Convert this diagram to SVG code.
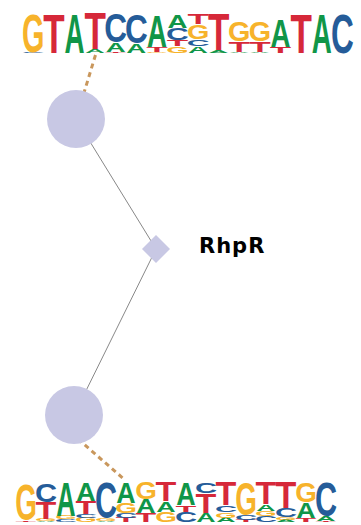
<svg xmlns="http://www.w3.org/2000/svg" width="361" height="525" viewBox="0 0 361 525">
<style>
.l{font-family:"Liberation Sans",Arial,sans-serif;font-weight:bold;text-anchor:middle}
.A{fill:#109648}.C{fill:#255C99}.G{fill:#F7B32B}.T{fill:#D62839}
.edge{stroke:#888888;stroke-width:1;fill:none}
.site{stroke:#C9975C;stroke-width:3;stroke-dasharray:5 4;fill:none}
.node{fill:#C8C8E4}
.lbl{font-family:"DejaVu Sans",Verdana,sans-serif;font-weight:bold;font-size:21px;letter-spacing:1px;fill:#000}
</style>
<g id="connectors">
<line class="site" x1="95.5" y1="55" x2="76" y2="119"/>
<line class="site" x1="78" y1="439" x2="125" y2="480"/>
<line class="edge" x1="76" y1="119" x2="156" y2="249"/>
<line class="edge" x1="156" y1="249" x2="74" y2="415"/>
</g>
<g id="logo-top">
<text class="l C" x="33.3" y="52.8" font-size="1.4" textLength="22.8" lengthAdjust="spacingAndGlyphs">C</text>
<text class="l G" x="33.3" y="51.6" font-size="53.5" textLength="22.4" lengthAdjust="spacingAndGlyphs">G</text>
<text class="l T" x="53.9" y="52.5" font-size="55.86" textLength="21.4" lengthAdjust="spacingAndGlyphs">T</text>
<text class="l A" x="74.5" y="52.5" font-size="55.86" textLength="20" lengthAdjust="spacingAndGlyphs">A</text>
<text class="l A" x="95.1" y="52.5" font-size="4.89" textLength="20" lengthAdjust="spacingAndGlyphs">A</text>
<text class="l T" x="95.1" y="49" font-size="50.98" textLength="21.4" lengthAdjust="spacingAndGlyphs">T</text>
<text class="l T" x="115.7" y="52.8" font-size="1.4" textLength="21.4" lengthAdjust="spacingAndGlyphs">T</text>
<text class="l A" x="115.7" y="51.6" font-size="13.27" textLength="20" lengthAdjust="spacingAndGlyphs">A</text>
<text class="l C" x="115.7" y="42.2" font-size="41.2" textLength="22.8" lengthAdjust="spacingAndGlyphs">C</text>
<text class="l A" x="136.3" y="52.5" font-size="13.27" textLength="20" lengthAdjust="spacingAndGlyphs">A</text>
<text class="l C" x="136.3" y="43" font-size="41.2" textLength="22.8" lengthAdjust="spacingAndGlyphs">C</text>
<text class="l G" x="156.9" y="52.5" font-size="1.4" textLength="22.4" lengthAdjust="spacingAndGlyphs">G</text>
<text class="l T" x="156.9" y="51.5" font-size="6.28" textLength="21.4" lengthAdjust="spacingAndGlyphs">T</text>
<text class="l A" x="156.9" y="47" font-size="44.69" textLength="20" lengthAdjust="spacingAndGlyphs">A</text>
<text class="l G" x="177.5" y="52.5" font-size="9.08" textLength="22.4" lengthAdjust="spacingAndGlyphs">G</text>
<text class="l T" x="177.5" y="46" font-size="8.38" textLength="21.4" lengthAdjust="spacingAndGlyphs">T</text>
<text class="l C" x="177.5" y="40" font-size="16.76" textLength="22.8" lengthAdjust="spacingAndGlyphs">C</text>
<text class="l A" x="177.5" y="28" font-size="18.16" textLength="20" lengthAdjust="spacingAndGlyphs">A</text>
<text class="l A" x="198.1" y="52.5" font-size="9.78" textLength="20" lengthAdjust="spacingAndGlyphs">A</text>
<text class="l C" x="198.1" y="45.5" font-size="9.78" textLength="22.8" lengthAdjust="spacingAndGlyphs">C</text>
<text class="l G" x="198.1" y="38.5" font-size="20.95" textLength="22.4" lengthAdjust="spacingAndGlyphs">G</text>
<text class="l T" x="198.1" y="23.5" font-size="13.97" textLength="21.4" lengthAdjust="spacingAndGlyphs">T</text>
<text class="l A" x="218.7" y="52.5" font-size="4.19" textLength="20" lengthAdjust="spacingAndGlyphs">A</text>
<text class="l T" x="218.7" y="49.5" font-size="51.68" textLength="21.4" lengthAdjust="spacingAndGlyphs">T</text>
<text class="l A" x="239.3" y="52.8" font-size="1.4" textLength="20" lengthAdjust="spacingAndGlyphs">A</text>
<text class="l T" x="239.3" y="51.6" font-size="14.3" textLength="21.4" lengthAdjust="spacingAndGlyphs">T</text>
<text class="l G" x="239.3" y="41.4" font-size="27.23" textLength="22.4" lengthAdjust="spacingAndGlyphs">G</text>
<text class="l A" x="259.9" y="52.8" font-size="1.4" textLength="20" lengthAdjust="spacingAndGlyphs">A</text>
<text class="l T" x="259.9" y="51.6" font-size="14.3" textLength="21.4" lengthAdjust="spacingAndGlyphs">T</text>
<text class="l G" x="259.9" y="41.4" font-size="27.23" textLength="22.4" lengthAdjust="spacingAndGlyphs">G</text>
<text class="l T" x="280.5" y="52.5" font-size="8.38" textLength="21.4" lengthAdjust="spacingAndGlyphs">T</text>
<text class="l A" x="280.5" y="46.5" font-size="39.1" textLength="20" lengthAdjust="spacingAndGlyphs">A</text>
<text class="l T" x="301.1" y="52.5" font-size="55.86" textLength="21.4" lengthAdjust="spacingAndGlyphs">T</text>
<text class="l A" x="321.7" y="52.5" font-size="55.86" textLength="20" lengthAdjust="spacingAndGlyphs">A</text>
<text class="l C" x="342.3" y="52.5" font-size="55.17" textLength="22.8" lengthAdjust="spacingAndGlyphs">C</text>
</g>
<g id="logo-bottom">
<text class="l T" x="26" y="522" font-size="1.68" textLength="20.8" lengthAdjust="spacingAndGlyphs">T</text>
<text class="l G" x="26" y="520" font-size="49.58" textLength="21.7" lengthAdjust="spacingAndGlyphs">G</text>
<text class="l A" x="46" y="522" font-size="1.4" textLength="19.4" lengthAdjust="spacingAndGlyphs">A</text>
<text class="l G" x="46" y="521" font-size="2.79" textLength="21.7" lengthAdjust="spacingAndGlyphs">G</text>
<text class="l T" x="46" y="519" font-size="23.74" textLength="20.8" lengthAdjust="spacingAndGlyphs">T</text>
<text class="l C" x="46" y="502" font-size="25.14" textLength="22.1" lengthAdjust="spacingAndGlyphs">C</text>
<text class="l C" x="66" y="522" font-size="4.19" textLength="22.1" lengthAdjust="spacingAndGlyphs">C</text>
<text class="l G" x="66" y="519" font-size="4.89" textLength="21.7" lengthAdjust="spacingAndGlyphs">G</text>
<text class="l A" x="66" y="515.5" font-size="48.88" textLength="19.4" lengthAdjust="spacingAndGlyphs">A</text>
<text class="l G" x="86" y="522" font-size="6.28" textLength="21.7" lengthAdjust="spacingAndGlyphs">G</text>
<text class="l C" x="86" y="517.5" font-size="5.59" textLength="22.1" lengthAdjust="spacingAndGlyphs">C</text>
<text class="l T" x="86" y="513.5" font-size="18.16" textLength="20.8" lengthAdjust="spacingAndGlyphs">T</text>
<text class="l A" x="86" y="500.5" font-size="25.14" textLength="19.4" lengthAdjust="spacingAndGlyphs">A</text>
<text class="l A" x="106" y="522" font-size="2.09" textLength="19.4" lengthAdjust="spacingAndGlyphs">A</text>
<text class="l G" x="106" y="520.5" font-size="4.19" textLength="21.7" lengthAdjust="spacingAndGlyphs">G</text>
<text class="l C" x="106" y="517.5" font-size="49.58" textLength="22.1" lengthAdjust="spacingAndGlyphs">C</text>
<text class="l T" x="126" y="522" font-size="6.28" textLength="20.8" lengthAdjust="spacingAndGlyphs">T</text>
<text class="l C" x="126" y="517.5" font-size="6.98" textLength="22.1" lengthAdjust="spacingAndGlyphs">C</text>
<text class="l G" x="126" y="512.5" font-size="13.97" textLength="21.7" lengthAdjust="spacingAndGlyphs">G</text>
<text class="l A" x="126" y="502.5" font-size="29.33" textLength="19.4" lengthAdjust="spacingAndGlyphs">A</text>
<text class="l T" x="146" y="522" font-size="12.57" textLength="20.8" lengthAdjust="spacingAndGlyphs">T</text>
<text class="l A" x="146" y="513" font-size="19.55" textLength="19.4" lengthAdjust="spacingAndGlyphs">A</text>
<text class="l G" x="146" y="499" font-size="23.74" textLength="21.7" lengthAdjust="spacingAndGlyphs">G</text>
<text class="l G" x="166" y="522" font-size="13.97" textLength="21.7" lengthAdjust="spacingAndGlyphs">G</text>
<text class="l A" x="166" y="512" font-size="15.36" textLength="19.4" lengthAdjust="spacingAndGlyphs">A</text>
<text class="l T" x="166" y="501" font-size="27.93" textLength="20.8" lengthAdjust="spacingAndGlyphs">T</text>
<text class="l C" x="186" y="522" font-size="13.97" textLength="22.1" lengthAdjust="spacingAndGlyphs">C</text>
<text class="l T" x="186" y="512" font-size="9.78" textLength="20.8" lengthAdjust="spacingAndGlyphs">T</text>
<text class="l A" x="186" y="505" font-size="32.12" textLength="19.4" lengthAdjust="spacingAndGlyphs">A</text>
<text class="l A" x="206" y="522" font-size="12.57" textLength="19.4" lengthAdjust="spacingAndGlyphs">A</text>
<text class="l T" x="206" y="513" font-size="27.93" textLength="20.8" lengthAdjust="spacingAndGlyphs">T</text>
<text class="l C" x="206" y="493" font-size="15.36" textLength="22.1" lengthAdjust="spacingAndGlyphs">C</text>
<text class="l A" x="226" y="522" font-size="6.28" textLength="19.4" lengthAdjust="spacingAndGlyphs">A</text>
<text class="l G" x="226" y="517.5" font-size="7.68" textLength="21.7" lengthAdjust="spacingAndGlyphs">G</text>
<text class="l C" x="226" y="512" font-size="9.78" textLength="22.1" lengthAdjust="spacingAndGlyphs">C</text>
<text class="l T" x="226" y="505" font-size="33.52" textLength="20.8" lengthAdjust="spacingAndGlyphs">T</text>
<text class="l T" x="246" y="522" font-size="2.79" textLength="20.8" lengthAdjust="spacingAndGlyphs">T</text>
<text class="l C" x="246" y="520" font-size="6.98" textLength="22.1" lengthAdjust="spacingAndGlyphs">C</text>
<text class="l G" x="246" y="515" font-size="46.09" textLength="21.7" lengthAdjust="spacingAndGlyphs">G</text>
<text class="l C" x="266" y="522" font-size="8.38" textLength="22.1" lengthAdjust="spacingAndGlyphs">C</text>
<text class="l G" x="266" y="516" font-size="6.98" textLength="21.7" lengthAdjust="spacingAndGlyphs">G</text>
<text class="l A" x="266" y="511" font-size="9.78" textLength="19.4" lengthAdjust="spacingAndGlyphs">A</text>
<text class="l T" x="266" y="504" font-size="32.12" textLength="20.8" lengthAdjust="spacingAndGlyphs">T</text>
<text class="l A" x="286" y="522" font-size="2.79" textLength="19.4" lengthAdjust="spacingAndGlyphs">A</text>
<text class="l G" x="286" y="520" font-size="4.19" textLength="21.7" lengthAdjust="spacingAndGlyphs">G</text>
<text class="l C" x="286" y="517" font-size="12.57" textLength="22.1" lengthAdjust="spacingAndGlyphs">C</text>
<text class="l T" x="286" y="508" font-size="37.71" textLength="20.8" lengthAdjust="spacingAndGlyphs">T</text>
<text class="l T" x="306" y="522" font-size="5.59" textLength="20.8" lengthAdjust="spacingAndGlyphs">T</text>
<text class="l A" x="306" y="518" font-size="22.35" textLength="19.4" lengthAdjust="spacingAndGlyphs">A</text>
<text class="l G" x="306" y="502" font-size="27.93" textLength="21.7" lengthAdjust="spacingAndGlyphs">G</text>
<text class="l T" x="326" y="522" font-size="1.4" textLength="20.8" lengthAdjust="spacingAndGlyphs">T</text>
<text class="l A" x="326" y="521" font-size="6.98" textLength="19.4" lengthAdjust="spacingAndGlyphs">A</text>
<text class="l C" x="326" y="516" font-size="47.49" textLength="22.1" lengthAdjust="spacingAndGlyphs">C</text>
</g>
<g id="node-site-top">
<circle class="node" cx="76" cy="119" r="29"/>
</g>
<g id="node-site-bottom">
<circle class="node" cx="74" cy="415" r="29"/>
</g>
<g id="node-RhpR">
<polygon class="node" points="156,235 170,249 156,263 142,249"/>
<text class="lbl" x="199" y="252.5">RhpR</text>
</g>
</svg>
